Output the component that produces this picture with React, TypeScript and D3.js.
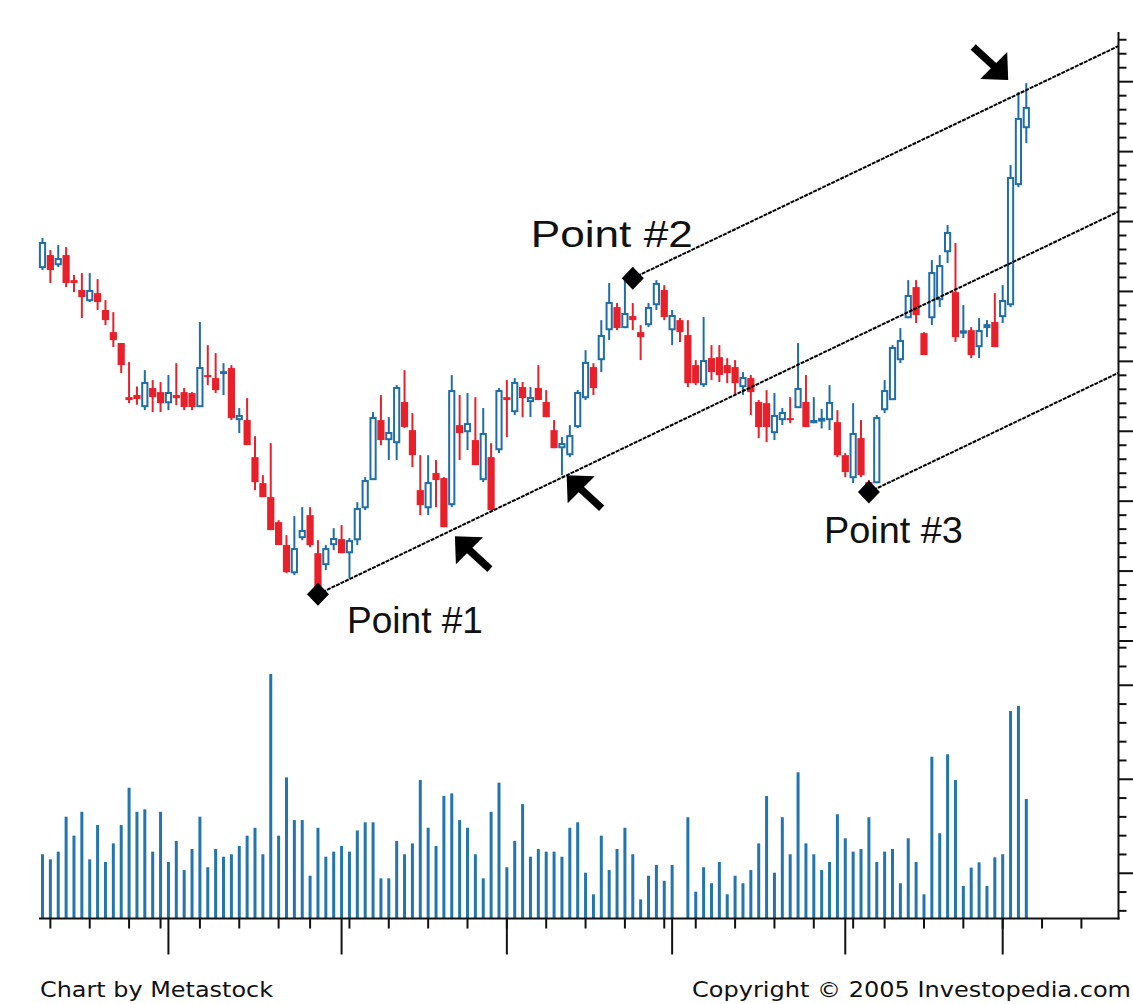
import React from 'react';
import * as d3 from 'd3';

// ---------- data ----------
const OPEN = [46.67, 47.6, 46.88, 47.6, 45.81, 45.1, 44.31, 44.88, 43.67, 42.09, 41.31, 37.44, 37.6, 36.73, 38.09, 37.8, 37.01, 37.59, 37.8, 37.73, 36.73, 39.02, 38.8, 39.16, 39.52, 35.8, 35.8, 33.15, 31.29, 30.29, 28.5, 26.86, 24.85, 27.36, 29.0, 26.28, 25.43, 26.86, 27.29, 26.28, 27.21, 29.5, 31.51, 35.8, 34.37, 34.15, 37.09, 35.08, 30.79, 29.5, 32.01, 31.65, 29.72, 35.44, 34.94, 34.37, 31.51, 33.15, 33.65, 37.44, 36.37, 38.16, 37.09, 38.09, 37.09, 35.08, 33.79, 33.29, 35.3, 37.37, 39.59, 40.09, 42.23, 43.88, 42.38, 43.24, 42.09, 42.59, 44.02, 45.1, 42.23, 42.95, 41.88, 39.73, 38.3, 40.23, 40.3, 39.73, 39.59, 38.16, 38.8, 37.09, 37.01, 34.87, 35.8, 35.94, 36.66, 37.09, 35.58, 35.7, 35.8, 35.65, 33.29, 31.65, 34.51, 31.36, 31.29, 36.51, 37.23, 40.09, 43.09, 45.31, 42.02, 43.09, 44.38, 47.81, 44.95, 42.05, 42.23, 41.02, 42.45, 42.81, 43.17, 44.02, 52.61, 56.68];
const HIGH = [48.82, 47.96, 48.31, 48.17, 46.17, 46.31, 46.31, 45.88, 44.38, 43.52, 41.31, 39.95, 38.2, 39.37, 38.66, 38.52, 39.02, 39.87, 38.09, 37.8, 42.81, 41.16, 40.59, 39.87, 39.73, 36.66, 37.37, 34.65, 31.86, 34.15, 28.64, 27.57, 28.93, 29.57, 29.57, 27.21, 26.86, 28.07, 28.29, 27.36, 29.93, 31.72, 36.37, 37.59, 36.01, 38.3, 39.37, 36.3, 33.29, 33.29, 32.94, 31.72, 39.02, 37.59, 37.73, 37.44, 36.66, 34.15, 38.09, 38.66, 38.8, 38.52, 38.16, 39.73, 37.94, 35.8, 34.58, 35.44, 37.94, 40.8, 39.87, 42.95, 45.6, 44.17, 45.81, 44.17, 42.59, 44.17, 45.81, 45.45, 43.67, 43.09, 42.95, 40.09, 43.17, 41.16, 41.16, 40.23, 40.09, 39.23, 39.02, 37.23, 37.94, 37.73, 36.66, 37.44, 41.31, 39.02, 37.44, 36.6, 38.3, 36.51, 33.44, 37.01, 35.8, 31.51, 36.16, 38.66, 41.16, 42.38, 45.81, 45.81, 42.09, 47.24, 47.6, 49.75, 48.46, 44.02, 42.45, 43.09, 42.95, 44.88, 45.45, 54.04, 59.26, 59.9];
const LOW = [46.53, 45.6, 46.74, 45.31, 44.95, 43.09, 44.24, 43.67, 42.59, 41.02, 39.16, 37.01, 36.9, 36.51, 36.37, 36.37, 36.51, 36.87, 36.51, 36.51, 36.73, 38.3, 37.73, 37.59, 35.8, 34.87, 34.01, 30.79, 30.29, 27.93, 26.86, 24.85, 24.71, 27.21, 26.71, 23.64, 25.07, 26.5, 26.28, 24.5, 26.86, 29.36, 31.51, 34.01, 32.94, 32.94, 35.23, 32.44, 29.0, 29.0, 29.57, 28.14, 29.57, 32.94, 33.65, 32.58, 31.36, 29.36, 33.44, 34.58, 36.16, 36.01, 36.01, 37.23, 36.01, 33.79, 31.86, 33.15, 35.23, 37.23, 37.59, 39.23, 41.52, 42.23, 42.38, 42.23, 40.09, 42.45, 43.67, 42.95, 41.16, 41.38, 38.16, 38.3, 38.16, 38.66, 38.52, 38.44, 37.59, 37.59, 36.16, 34.51, 34.22, 34.37, 35.44, 35.58, 36.66, 35.3, 35.58, 35.2, 35.08, 33.15, 31.72, 31.29, 31.72, 30.65, 31.29, 36.3, 37.23, 39.87, 43.09, 42.74, 40.45, 42.59, 43.88, 47.03, 41.38, 41.66, 40.23, 40.23, 41.73, 41.02, 42.74, 43.88, 52.46, 55.61];
const CLOSE = [48.53, 46.53, 47.38, 45.6, 45.6, 44.6, 45.1, 44.24, 42.95, 41.52, 39.73, 37.23, 37.3, 38.52, 37.44, 37.01, 37.8, 37.37, 36.73, 36.73, 39.59, 38.87, 37.94, 39.23, 35.94, 36.16, 34.01, 31.36, 30.29, 27.93, 26.86, 24.92, 26.64, 27.93, 26.86, 23.78, 26.64, 27.36, 26.28, 27.21, 29.5, 31.51, 36.01, 34.37, 34.94, 38.16, 35.3, 33.29, 29.72, 31.36, 31.51, 28.14, 37.94, 34.87, 35.58, 32.58, 34.87, 29.36, 37.94, 37.23, 38.52, 37.37, 37.44, 37.23, 36.01, 33.79, 34.15, 34.72, 37.8, 39.95, 38.09, 41.88, 44.24, 42.38, 43.45, 42.95, 41.73, 43.88, 45.6, 43.17, 43.31, 42.09, 38.44, 38.44, 40.09, 39.23, 39.02, 39.16, 38.44, 38.87, 37.8, 35.3, 35.3, 36.16, 36.37, 35.8, 38.09, 35.3, 35.8, 35.95, 37.09, 33.29, 32.08, 34.87, 31.86, 30.79, 36.01, 37.94, 41.02, 41.52, 44.74, 43.31, 40.45, 46.38, 46.88, 49.25, 41.73, 42.15, 40.45, 42.23, 42.59, 41.02, 44.38, 53.18, 57.4, 58.19];
const VOLUME = [3.39, 3.12, 3.53, 5.39, 4.38, 5.65, 3.12, 4.95, 2.98, 3.97, 4.95, 6.93, 5.65, 5.78, 3.53, 5.65, 2.98, 4.1, 2.55, 3.67, 5.39, 2.7, 3.67, 3.26, 3.39, 3.83, 4.38, 4.8, 3.39, 12.98, 4.38, 7.48, 5.21, 5.21, 2.25, 4.8, 3.26, 3.53, 3.83, 3.53, 4.66, 5.09, 5.09, 2.11, 2.11, 4.1, 3.39, 3.97, 7.34, 4.8, 3.83, 6.49, 6.63, 5.21, 4.8, 3.39, 2.11, 5.65, 7.2, 2.7, 4.1, 6.06, 3.26, 3.67, 3.53, 3.53, 3.26, 4.8, 5.09, 2.41, 1.26, 4.38, 2.55, 3.67, 4.8, 3.39, 0.99, 2.25, 2.82, 1.98, 2.82, 0, 5.36, 1.4, 2.7, 1.85, 2.98, 1.26, 2.25, 1.85, 2.55, 3.97, 6.49, 2.41, 5.36, 3.39, 7.75, 3.97, 3.39, 2.55, 2.98, 5.52, 4.24, 3.53, 3.67, 5.36, 2.98, 3.53, 3.67, 1.85, 4.24, 2.98, 1.26, 8.58, 4.51, 8.71, 7.34, 1.7, 2.68, 2.96, 1.7, 3.23, 3.39, 11.01, 11.28, 6.33];

const WEEK_TICKS = [1, 6, 11, 15, 20, 25, 30, 34, 39, 44, 49, 54, 59, 64, 69, 74, 79, 83, 88, 93, 98, 103, 107, 112, 117, 122, 127, 132];
const MONTH_TICKS = [16, 38, 59, 80, 102, 122];
const PRICE_TICKS = d3.range(20, 64);
const PRICE_MAJOR_STEP = 5;
const VOL_TICK_OFFSET = 0.38;
const VOL_TICKS = d3.range(15).map((k) => VOL_TICK_OFFSET + k);

const POINT_LABELS = ['Point #1', 'Point #2', 'Point #3'];
const POINT_INDEX = [35, 75, 105];
const POINT_PRICE = [23.35, 45.95, 30.65];
const CHANNEL_SLOPE = 0.269; // price units per bar

const ARROW_INDEX = [52.4, 66.6, 122.7];
const ARROW_PRICE = [27.5, 31.86, 60.12];
const ARROW_POINTS_DOWN = [false, false, true];

const FOOTER_LEFT = 'Chart by Metastock';
const FOOTER_RIGHT = 'Copyright \u00A9 2005 Investopedia.com';

// ---------- layout ----------
const W = 1133;
const H = 1004;
const AXIS_X = 1118.5;
const AXIS_TOP = 32;
const BASE_Y = 918.5;
const AXIS_LEFT = 39;
const RED = '#e8202a';
const BLUE = '#1f6ea6';
const VOL_BLUE = '#2376ad';
const LABEL_OFFSETS = [
  [29, 39],
  [-102, -31],
  [-45, 51],
];
const LABEL_WIDTHS = [136, 162, 139];

export default function App() {
  const n = CLOSE.length;
  const x = d3.scaleLinear().domain([0, n - 1]).range([42.5, 1026.3]);
  const y = d3.scaleLinear().domain([20, 60]).range([641, 81.7]);
  const yv = d3.scaleLinear().domain([0, 14.4]).range([918, 647.3]);
  const endIdx = x.invert(AXIS_X);

  const candles = d3.range(n).map((i) => {
    const o = OPEN[i];
    const c = CLOSE[i];
    const up = c >= o;
    const cx = x(i);
    const top = y(Math.max(o, c));
    const bot = y(Math.min(o, c));
    const h = bot - top;
    const col = up ? BLUE : RED;
    return (
      <g key={'c' + i}>
        <line x1={cx} x2={cx} y1={y(HIGH[i])} y2={y(LOW[i])} stroke={col} strokeWidth={2} />
        {up ? (
          h < 3 ? (
            <rect x={cx - 3.5} y={top - 1} width={7} height={h + 2} fill={col} />
          ) : (
            <rect x={cx - 2.6} y={top + 0.9} width={5.2} height={h - 1.8} fill="#fff" stroke={col} strokeWidth={2} />
          )
        ) : (
          <rect x={cx - 3.6} y={top} width={7.2} height={Math.max(h, 2)} fill={col} />
        )}
      </g>
    );
  });

  const volBars = VOLUME.map((v, i) =>
    v > 0 ? (
      <rect key={'v' + i} x={x(i) - 1.5} y={yv(v)} width={3} height={yv(0) - yv(v)} fill={VOL_BLUE} />
    ) : null
  );

  const lines = POINT_INDEX.map((pi, k) => {
    const p = POINT_PRICE[k];
    return (
      <line
        key={'l' + k}
        x1={x(pi)}
        y1={y(p)}
        x2={x(endIdx)}
        y2={y(p + CHANNEL_SLOPE * (endIdx - pi))}
        stroke="#000"
        strokeWidth={2}
        strokeDasharray="4 1"
      />
    );
  });

  const diamonds = POINT_INDEX.map((pi, k) => (
    <path
      key={'d' + k}
      transform={`translate(${x(pi)},${y(POINT_PRICE[k])})`}
      d="M0,-11.5L11,0L0,11.5L-11,0Z"
      fill="#000"
    />
  ));

  const labels = POINT_LABELS.map((t, k) => (
    <text
      key={'t' + k}
      x={x(POINT_INDEX[k]) + LABEL_OFFSETS[k][0]}
      y={y(POINT_PRICE[k]) + LABEL_OFFSETS[k][1]}
      fontFamily="'Liberation Sans', Arial, sans-serif"
      fontSize={37}
      textLength={LABEL_WIDTHS[k]}
      lengthAdjust="spacingAndGlyphs"
      fill="#111"
    >
      {t}
    </text>
  ));

  const arrows = ARROW_INDEX.map((ai, k) => (
    <g key={'a' + k} transform={`translate(${x(ai)},${y(ARROW_PRICE[k])}) rotate(${ARROW_POINTS_DOWN[k] ? 180 : 0})`}>
      <path d="M0,0L28,1L1,28Z" fill="#000" />
      <line x1={10} y1={10} x2={35} y2={33} stroke="#000" strokeWidth={7.5} />
    </g>
  ));

  const rightTicks = [
    ...PRICE_TICKS.map((v) => ({ yy: y(v), major: v % PRICE_MAJOR_STEP === 0 })),
    ...VOL_TICKS.map((v, k) => ({ yy: yv(v), major: k % 5 === 2 })),
  ];

  const footerFont = "'DejaVu Sans', Verdana, sans-serif";

  return (
    <svg width={W} height={H} style={{ position: 'absolute', left: 0, top: 0, background: '#fff' }}>
      <rect x={0} y={0} width={W} height={H} fill="#fff" />
      {volBars}
      {candles}
      {lines}
      {diamonds}
      {arrows}
      {labels}
      {/* right axis */}
      <line x1={AXIS_X} x2={AXIS_X} y1={AXIS_TOP} y2={BASE_Y + 1} stroke="#111" strokeWidth={2} />
      {rightTicks.map((t, i) => (
        <line key={'rt' + i} x1={AXIS_X} x2={AXIS_X + (t.major ? 15 : 8)} y1={t.yy} y2={t.yy} stroke="#111" strokeWidth={2} />
      ))}
      {/* bottom axis */}
      <line x1={AXIS_LEFT} x2={AXIS_X + 1} y1={BASE_Y} y2={BASE_Y} stroke="#111" strokeWidth={2} />
      {WEEK_TICKS.map((t) => (
        <line key={'wt' + t} x1={x(t)} x2={x(t)} y1={BASE_Y} y2={BASE_Y + 10} stroke="#111" strokeWidth={2} />
      ))}
      {MONTH_TICKS.map((t) => (
        <line key={'mt' + t} x1={x(t)} x2={x(t)} y1={BASE_Y} y2={BASE_Y + 36} stroke="#111" strokeWidth={2} />
      ))}
      <text x={40} y={997} fontFamily={footerFont} fontSize={21} textLength={233} lengthAdjust="spacingAndGlyphs" fill="#111">
        {FOOTER_LEFT}
      </text>
      <text x={692} y={997} fontFamily={footerFont} fontSize={21} textLength={439} lengthAdjust="spacingAndGlyphs" fill="#111">
        {FOOTER_RIGHT}
      </text>
    </svg>
  );
}
